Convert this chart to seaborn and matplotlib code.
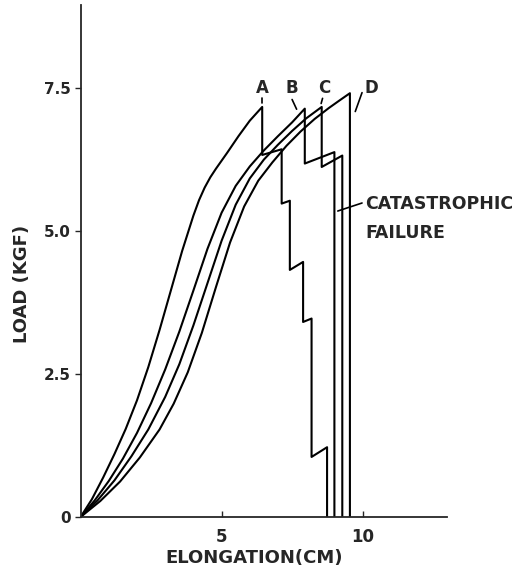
import matplotlib
matplotlib.use("Agg")
import matplotlib.pyplot as plt
import seaborn as sns

# Load-elongation traces (elongation in cm, load in kgf)
a_x = [0, 0.4, 0.8, 1.2, 1.6, 2.0, 2.4, 2.8, 3.2, 3.6, 4.0, 4.2, 4.4, 4.6, 4.8, 5.2, 5.6, 6.0, 6.44,
       6.44, 7.13, 7.13, 7.42, 7.42, 7.89, 7.89, 8.19, 8.19, 8.74, 8.74]
a_y = [0, 0.31, 0.69, 1.10, 1.54, 2.04, 2.62, 3.27, 3.96, 4.65, 5.27, 5.54, 5.76, 5.94, 6.09, 6.37, 6.66, 6.93, 7.17,
       6.33, 6.43, 5.48, 5.53, 4.32, 4.46, 3.41, 3.47, 1.05, 1.22, 0]

b_x = [0, 0.5, 1.0, 1.5, 2.0, 2.5, 3.0, 3.5, 4.0, 4.5, 5.0, 5.5, 6.0, 6.5, 7.0, 7.5, 7.95,
       7.95, 9.0, 9.0]
b_y = [0, 0.29, 0.63, 1.02, 1.47, 1.99, 2.58, 3.24, 3.96, 4.69, 5.32, 5.79, 6.13, 6.41, 6.66, 6.90, 7.14,
       6.18, 6.38, 0]

c_x = [0, 0.6, 1.2, 1.8, 2.4, 3.0, 3.5, 4.0, 4.5, 5.0, 5.5, 6.0, 6.5, 7.0, 7.5, 8.0, 8.55,
       8.55, 9.28, 9.28]
c_y = [0, 0.29, 0.64, 1.06, 1.53, 2.10, 2.67, 3.35, 4.09, 4.83, 5.46, 5.92, 6.25, 6.51, 6.75, 6.97, 7.17,
       6.12, 6.32, 0]

d_x = [0, 0.7, 1.4, 2.1, 2.8, 3.3, 3.8, 4.3, 4.8, 5.3, 5.8, 6.3, 6.8, 7.3, 7.8, 8.3, 8.8, 9.2, 9.55,
       9.55]
d_y = [0, 0.28, 0.62, 1.04, 1.53, 1.98, 2.53, 3.22, 4.02, 4.80, 5.43, 5.88, 6.20, 6.49, 6.74, 6.96, 7.15, 7.29, 7.41,
       0]

curves = {"A": (a_x, a_y), "B": (b_x, b_y), "C": (c_x, c_y), "D": (d_x, d_y)}

y_ticks = [0, 2.5, 5.0, 7.5]
y_tick_labels = ["0", "2.5", "5.0", "7.5"]
x_ticks = [5, 10]
x_tick_labels = ["5", "10"]

sns.set_style("ticks")
plt.rcParams["font.family"] = ["DejaVu Sans"]
plt.rcParams["font.weight"] = "bold"

fig = plt.figure(figsize=(5.2, 5.7), dpi=100)
ax = fig.add_axes([0.155, 0.093, 0.705, 0.898])

for name, (xs, ys) in curves.items():
    sns.lineplot(x=xs, y=ys, sort=False, estimator=None, color="black",
                 linewidth=1.5, ax=ax)

# curve letters with short leader marks
letters = {
    "A": ((6.44, 7.50), (6.44, 7.33), (6.44, 7.23)),
    "B": ((7.48, 7.50), (7.50, 7.30), (7.66, 7.13)),
    "C": ((8.63, 7.50), (8.58, 7.32), (8.53, 7.23)),
    "D": ((10.32, 7.50), (9.98, 7.42), (9.74, 7.09)),
}
for name, (txt, p0, p1) in letters.items():
    ax.text(txt[0], txt[1], name, ha="center", va="center", fontsize=12, fontweight="bold")
    ax.plot([p0[0], p1[0]], [p0[1], p1[1]], color="black", lw=1.2)

ax.text(10.08, 5.48, "CATASTROPHIC", ha="left", va="center", fontsize=12.5, fontweight="bold")
ax.text(10.10, 4.96, "FAILURE", ha="left", va="center", fontsize=12.5, fontweight="bold")
ax.plot([9.12, 9.98], [5.35, 5.49], color="black", lw=1.2)

ax.set_xlim(0, 13)
ax.set_ylim(0, 8.95)
ax.set_xticks(x_ticks)
ax.set_xticklabels(x_tick_labels)
ax.set_yticks(y_ticks)
ax.set_yticklabels(y_tick_labels)
ax.tick_params(axis="x", direction="in", length=4, width=1, pad=8, labelsize=12)
ax.tick_params(axis="y", direction="out", length=4, width=1, pad=3, labelsize=11)

ax.set_xlabel("ELONGATION(CM)", fontsize=13, fontweight="bold")
ax.set_ylabel("LOAD (KGF)", fontsize=13, fontweight="bold")
ax.xaxis.set_label_coords(0.473, -0.062)
ax.yaxis.set_label_coords(-0.135, 0.455)

sns.despine(ax=ax)
for side in ["left", "bottom"]:
    ax.spines[side].set_linewidth(1.3)

fig.savefig("out.png", dpi=100, facecolor="white")
